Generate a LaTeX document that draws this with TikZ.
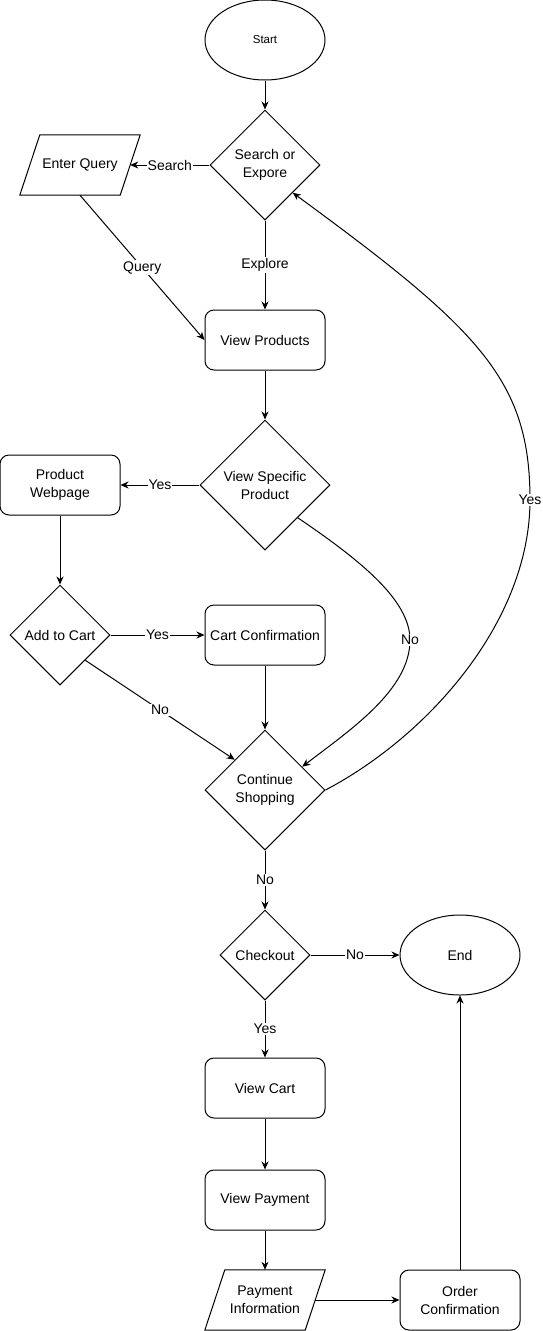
\documentclass[tikz,border=0pt]{standalone}
\usepackage{fontspec}
\setmainfont{Liberation Sans}
\usetikzlibrary{shapes.geometric,arrows.meta}
\begin{document}
\begin{tikzpicture}[x=1pt,y=-1pt,
  every node/.style={font=\fontsize{14}{18}\selectfont},
  box/.style={draw, rounded corners=9pt, minimum width=120pt, minimum height=60pt, align=center, inner sep=0pt, line width=1pt},
  dec/.style={draw, diamond, inner sep=0pt, align=center, line width=1pt},
  oval/.style={draw, ellipse, minimum width=120pt, minimum height=80pt, inner sep=0pt, line width=1pt},
  para/.style={minimum width=100pt, minimum height=60pt, align=center, inner sep=0pt},
  paraline/.style={draw, line width=1pt},
  arr/.style={-{Stealth[length=8pt,width=7pt,inset=2.5pt]}, line width=1pt},
  lab/.style={fill=white, inner sep=1pt}
]
\useasboundingbox (0,0) rectangle (543,1331);

% nodes
\node[oval, font=\fontsize{11.5}{14}\selectfont] (start) at (265,40) {Start};
\node[dec, minimum width=110pt, minimum height=110pt] (srch) at (265,165) {Search or\\Expore};
\node[para] (eq) at (80,165) {Enter Query};
\draw[paraline] ([xshift=10pt]eq.north west) -- ([xshift=10pt]eq.north east) -- ([xshift=-10pt]eq.south east) -- ([xshift=-10pt]eq.south west) -- cycle;
\node[box] (vp) at (265,340) {View Products};
\node[dec, minimum width=130pt, minimum height=130pt] (vsp) at (265,485) {View Specific\\Product};
\node[box] (pw) at (60,485) {Product\\Webpage};
\node[dec, minimum width=100pt, minimum height=100pt] (atc) at (60,635) {Add to Cart};
\node[box] (cc) at (265,635) {Cart Confirmation};
\node[dec, minimum width=120pt, minimum height=120pt] (cs) at (265,790) {Continue\\Shopping};
\node[dec, minimum width=90pt, minimum height=90pt] (co) at (265,955) {Checkout};
\node[oval] (fin) at (460,955) {End};
\node[box] (vc) at (265,1088) {View Cart};
\node[box] (vpay) at (265,1200) {View Payment};
\node[para] (pi) at (265,1300) {Payment\\Information};
\draw[paraline] ([xshift=10pt]pi.north west) -- ([xshift=10pt]pi.north east) -- ([xshift=-10pt]pi.south east) -- ([xshift=-10pt]pi.south west) -- cycle;
\node[box] (oc) at (460,1300) {Order\\Confirmation};

\coordinate (nowp) at (410,640);
\coordinate (yeswp) at (530,500);

% connectors
\draw[arr] (start) -- (srch);
\draw[arr] (srch) -- node[lab]{Search} (eq);
\draw[arr] (eq.south) -- node[lab]{Query} (vp.west);
\draw[arr] (srch) -- node[lab]{Explore} (vp);
\draw[arr] (vp) -- (vsp);
\draw[arr] (vsp) -- node[lab]{Yes} (pw);
\draw[arr] (pw) -- (atc);
\draw[arr] (atc) -- node[lab]{Yes} (cc);
\draw[arr] (cc) -- (cs);
\draw[arr] (atc.-45) -- node[lab]{No} (cs.135);
\draw[arr] (vsp.-45) .. controls (360,560) and (410,600) .. (nowp) node[lab]{No} .. controls (410,690) and (350,730) .. (cs.32);
\draw[arr] (cs.east) .. controls (430,735) and (530,620) .. (yeswp) node[lab]{Yes} .. controls (530,380) and (480,330) .. (srch.-45);
\draw[arr] (cs) -- node[lab]{No} (co);
\draw[arr] (co) -- node[lab]{No} (fin);
\draw[arr] (co) -- node[lab]{Yes} (vc);
\draw[arr] (vc) -- (vpay);
\draw[arr] (vpay) -- (pi);
\draw[arr] (pi) -- (oc);
\draw[arr] (oc) -- (fin);
\end{tikzpicture}
\end{document}
